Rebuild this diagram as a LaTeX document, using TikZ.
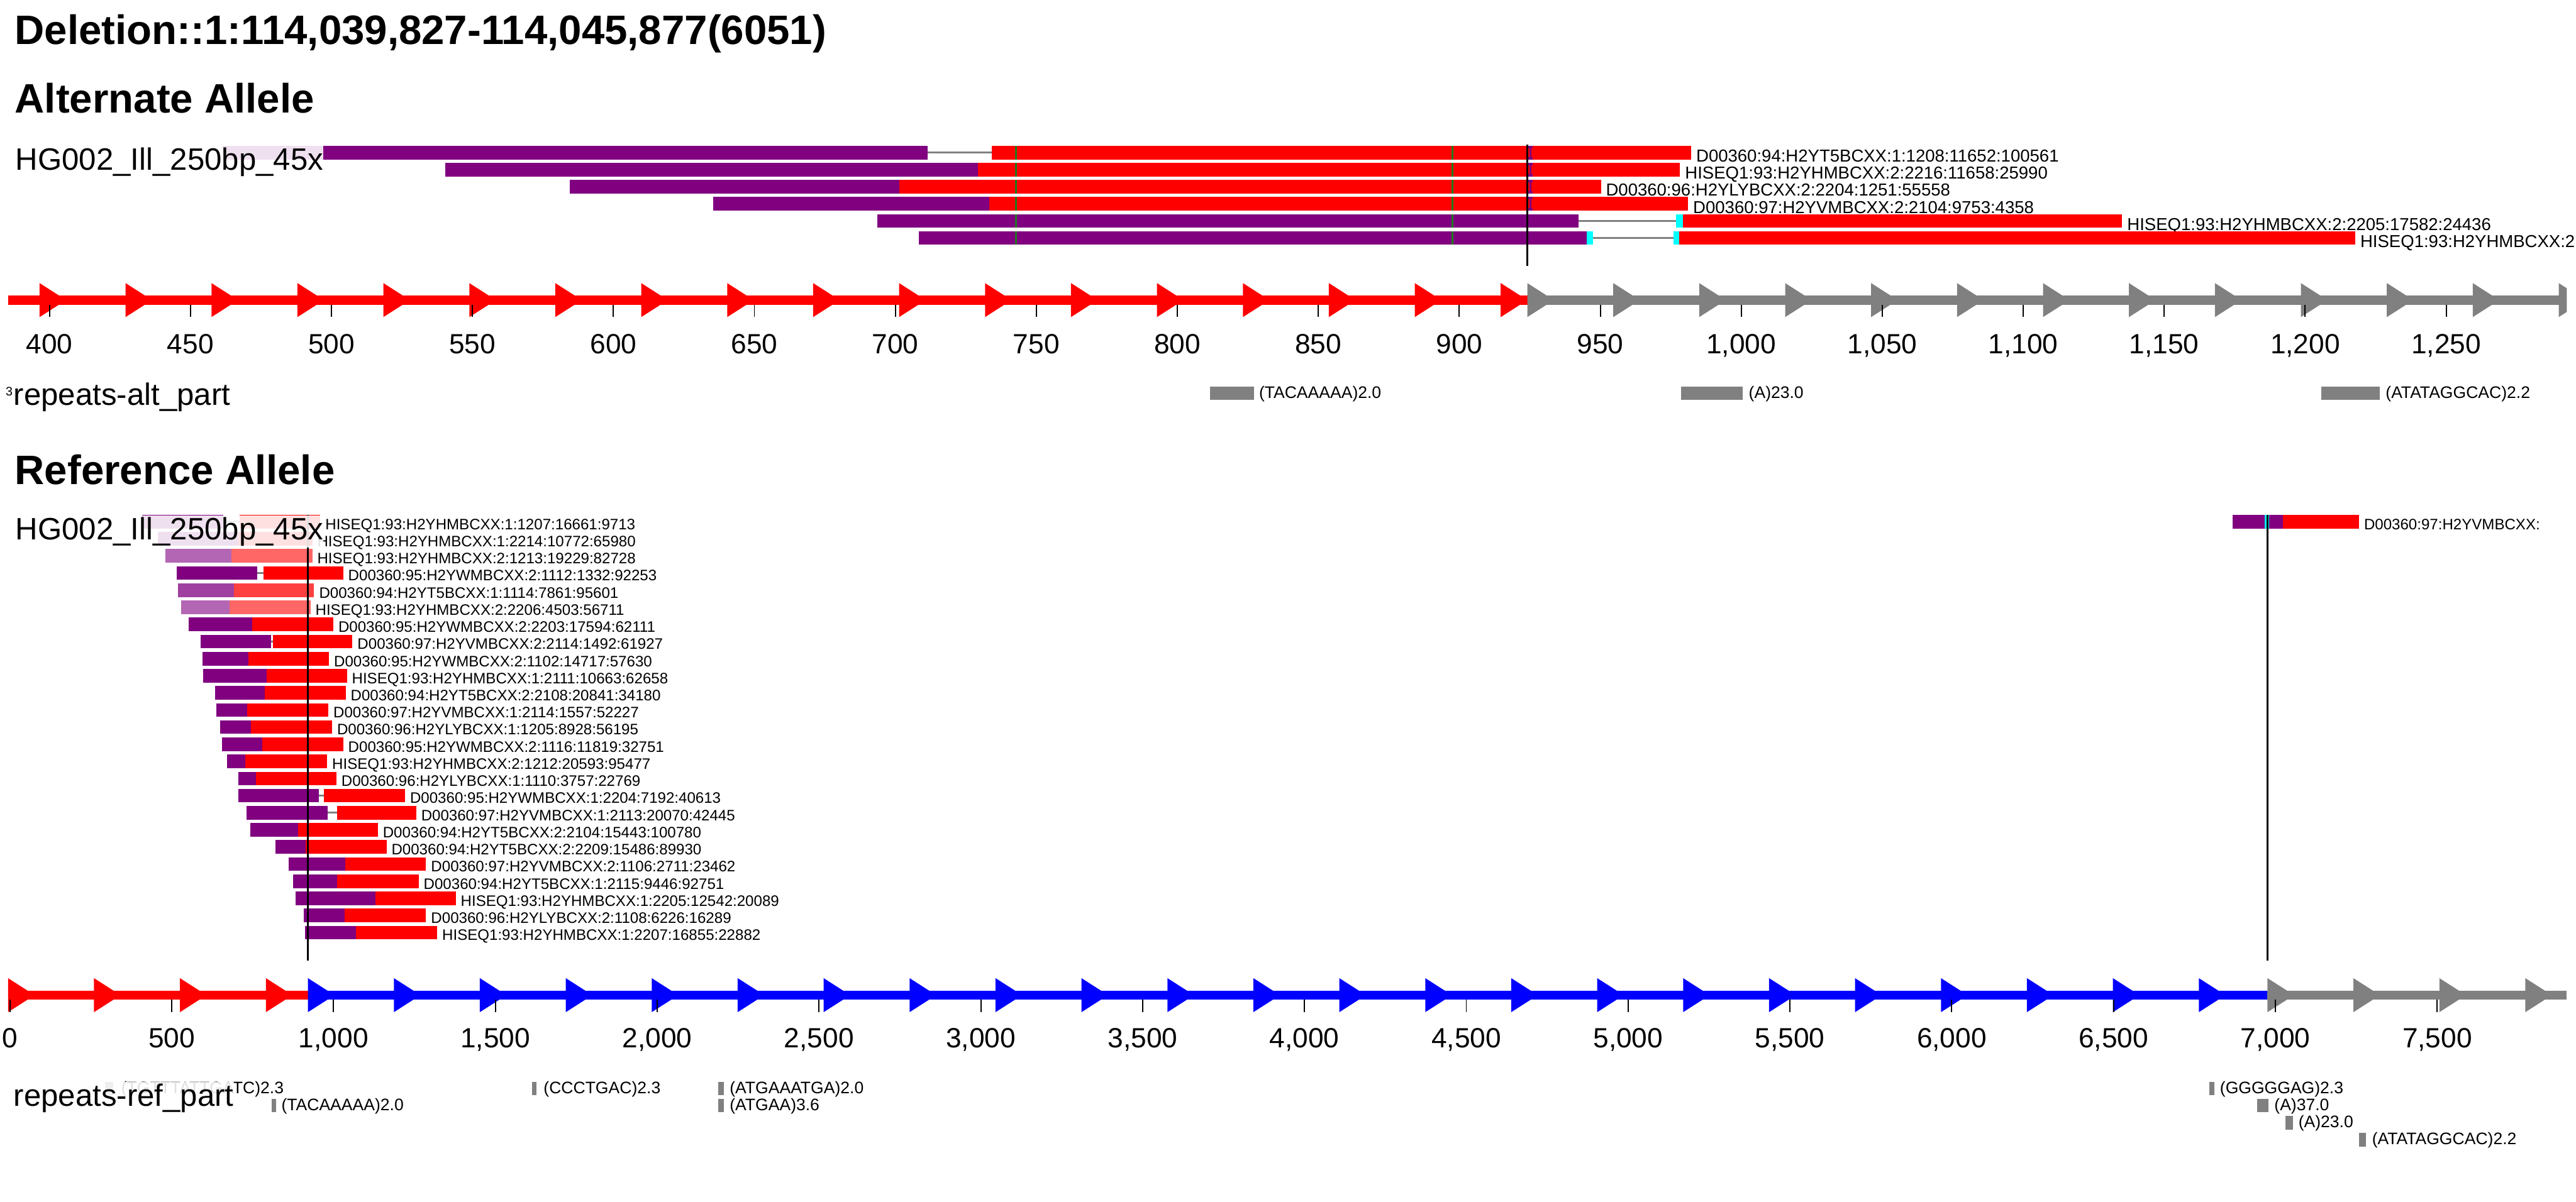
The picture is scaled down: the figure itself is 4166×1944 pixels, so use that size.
\documentclass[tikz,border=0pt]{standalone}
\usepackage{fontspec}
\setmainfont{Liberation Sans}
\definecolor{purp}{HTML}{800080}
\definecolor{rd}{HTML}{FF0000}
\definecolor{gr}{HTML}{808080}
\definecolor{bl}{HTML}{0000FF}
\definecolor{cy}{HTML}{00FFFF}
\definecolor{gn}{HTML}{1E7B1E}
\newcommand{\fsz}[1]{\fontsize{#1}{#1}\selectfont}
\tikzset{
  ttl/.style={anchor=base west, inner sep=0pt, font=\bfseries\fsz{66.5}},
  trk/.style={anchor=base west, inner xsep=0pt, inner ysep=3pt, fill=white, fill opacity=.88, text opacity=1, font=\fsz{50}},
  albl/.style={anchor=base west, inner sep=0pt, font=\fsz{28}},
  rlbl/.style={anchor=base west, inner sep=0pt, font=\fsz{24.5}},
  replbl/.style={anchor=base west, inner sep=0pt, font=\fsz{27}},
  ticklbl/.style={anchor=base, inner sep=0pt, font=\fsz{45}},
  conn/.style={draw=gr, line width=3pt},
  vline/.style={draw=black, line width=2.5pt},
  tickmark/.style={draw=black, line width=2pt},
  mism/.style={draw=gn, line width=3pt},
}
\pgfkeys{/pgf/number format/.cd, int detect, 1000 sep={,}, assume math mode=true}
% arrow triangle: colour, left x, centre y
\newcommand{\tri}[3]{\fill[#1] (#2,#3-27.5) -- (#2+43,#3) -- (#2,#3+27.5) -- cycle;}
% reference read row: [opacity]{row}{purple start}{purple end}{red start}{red end}{label}
\newcommand{\rrow}[7][1]{%
  \pgfmathsetmacro{\yt}{833+(#2-1)*27.7}%
  \pgfmathsetmacro{\yb}{\yt+22}%
  \pgfmathsetmacro{\ym}{\yt+11}%
  \pgfmathsetmacro{\yl}{\yt+23.5}%
  \pgfmathsetmacro{\xl}{#6+8}%
  \fill[purp, fill opacity=#1] (#3,\yt) rectangle (#4,\yb);
  \draw[conn] (#4,\ym) -- (#5,\ym);
  \fill[rd, fill opacity=#1] (#5,\yt) rectangle (#6,\yb);
  \node[rlbl] (rr#2) at (\xl,\yl) {#7};
}
% repeat: {name}{x1}{x2}{top}{label x}{text}
\newcommand{\rep}[6]{%
  \fill[gr] (#2,#4) rectangle (#3,#4+22);
  \node[replbl] (#1) at (#5,#4+19) {#6};
}
\begin{document}
\begin{tikzpicture}[x=1pt,y=-1pt]
\useasboundingbox (0,0) rectangle (4166,1944);

% ---------- titles ----------
\node[ttl] (title) at (24,72) {Deletion::1:114,039,827-114,045,877(6051)};
\node[ttl] (alt) at (24,183) {Alternate Allele};
\node[ttl] (ref) at (24,784) {Reference Allele};

% ---------- alternate allele reads ----------
% row 1
\fill[purp] (360,236) rectangle (1500,258);
\draw[conn] (1500,247) -- (1604,247);
\fill[rd] (1604,236) rectangle (2735,258);
\node[albl] (a1) at (2743,262) {D00360:94:H2YT5BCXX:1:1208:11652:100561};
% row 2
\fill[purp] (720,263.6) rectangle (1582,285.6);
\fill[rd] (1582,263.6) rectangle (2717,285.6);
\node[albl] (a2) at (2725,289.6) {HISEQ1:93:H2YHMBCXX:2:2216:11658:25990};
% row 3
\fill[purp] (921,291.2) rectangle (1454,313.2);
\fill[rd] (1454,291.2) rectangle (2589,313.2);
\node[albl] (a3) at (2597,317.2) {D00360:96:H2YLYBCXX:2:2204:1251:55558};
% row 4
\fill[purp] (1153,318.8) rectangle (1600,340.8);
\fill[rd] (1600,318.8) rectangle (2730,340.8);
\node[albl] (a4) at (2738,344.8) {D00360:97:H2YVMBCXX:2:2104:9753:4358};
% row 5
\fill[purp] (1419,346.4) rectangle (2553,368.4);
\draw[conn] (2553,357.4) -- (2711,357.4);
\fill[cy] (2711,346.4) rectangle (2722,368.4);
\fill[rd] (2722,346.4) rectangle (3432,368.4);
\node[albl] (a5) at (3440,372.4) {HISEQ1:93:H2YHMBCXX:2:2205:17582:24436};
% row 6
\fill[purp] (1486,374) rectangle (2566,396);
\fill[cy] (2566,374) rectangle (2576,396);
\draw[conn] (2576,385) -- (2706,385);
\fill[cy] (2706,374) rectangle (2716,396);
\fill[rd] (2716,374) rectangle (3809,396);
\node[albl] (a6) at (3817,400) {HISEQ1:93:H2YHMBCXX:2};
% mismatches
\foreach \t in {236,263.6,291.2,318.8,346.4,374}{
  \draw[mism] (1643,\t) -- (1643,\t+22);
  \draw[mism] (2349,\t) -- (2349,\t+22);
}
% insertion marks
\foreach \t in {236,263.6,291.2,318.8}{
  \draw[purp, line width=2.5pt] (2475,\t) -- (2475,\t+22);
  \fill[purp] (2471,\t) rectangle (2479,\t+4);
  \fill[purp] (2471,\t+18) rectangle (2479,\t+22);
}
\draw[vline] (2470,234) -- (2470,430);
\node[trk] (trkA) at (25,275) {HG002\_Ill\_250bp\_45x};

% ---------- alternate axis ----------
\begin{scope}
\clip (0,0) rectangle (4151,1944);
\fill[rd] (13,478) rectangle (2470,493);
\fill[gr] (2470,478) rectangle (4151,493);
\foreach \k in {0,...,17} {\tri{rd}{64+139*\k}{485.5}}
\foreach \k in {0,...,12} {\tri{gr}{2470+139*\k}{485.5}}
\end{scope}
\foreach \b in {400,450,...,1250}{
  \pgfmathsetmacro{\xx}{80+(\b-400)*4.56}
  \draw[tickmark] (\xx,493) -- (\xx,513);
  \node[ticklbl] (at\b) at (\xx,572) {\pgfmathprintnumber{\b}};
}

% ---------- alternate repeats ----------
\node[anchor=base west, inner sep=0pt, font=\fsz{20}] (three) at (9,640) {3};
\rep{ra1}{1957}{2028}{625}{2036}{(TACAAAAA)2.0}
\rep{ra2}{2719}{2818}{625}{2828}{(A)23.0}
\rep{ra3}{3754}{3849}{625}{3858}{(ATATAGGCAC)2.2}
\node[trk] (repA) at (22,655) {repeats-alt\_part};

% ---------- reference allele reads ----------
\rrow{1}{230}{361}{388}{518}{HISEQ1:93:H2YHMBCXX:1:1207:16661:9713}
\rrow{2}{255}{385}{385}{505}{HISEQ1:93:H2YHMBCXX:1:2214:10772:65980}
\rrow[0.6]{3}{267}{374}{374}{505}{HISEQ1:93:H2YHMBCXX:2:1213:19229:82728}
\rrow{4}{286}{416}{426}{555}{D00360:95:H2YWMBCXX:2:1112:1332:92253}
\rrow[0.75]{5}{288}{378}{378}{508}{D00360:94:H2YT5BCXX:1:1114:7861:95601}
\rrow[0.6]{6}{293}{371}{371}{502}{HISEQ1:93:H2YHMBCXX:2:2206:4503:56711}
\rrow{7}{305}{408}{408}{539}{D00360:95:H2YWMBCXX:2:2203:17594:62111}
\rrow{8}{324}{438}{441}{570}{D00360:97:H2YVMBCXX:2:2114:1492:61927}
\rrow{9}{327}{402}{402}{532}{D00360:95:H2YWMBCXX:2:1102:14717:57630}
\rrow{10}{329}{431}{431}{561}{HISEQ1:93:H2YHMBCXX:1:2111:10663:62658}
\rrow{11}{348}{428}{428}{559}{D00360:94:H2YT5BCXX:2:2108:20841:34180}
\rrow{12}{350}{400}{400}{531}{D00360:97:H2YVMBCXX:1:2114:1557:52227}
\rrow{13}{356}{406}{406}{537}{D00360:96:H2YLYBCXX:1:1205:8928:56195}
\rrow{14}{359}{424}{424}{555}{D00360:95:H2YWMBCXX:2:1116:11819:32751}
\rrow{15}{367}{397}{397}{529}{HISEQ1:93:H2YHMBCXX:2:1212:20593:95477}
\rrow{16}{385}{414}{414}{544}{D00360:96:H2YLYBCXX:1:1110:3757:22769}
\rrow{17}{385}{516}{524}{655}{D00360:95:H2YWMBCXX:1:2204:7192:40613}
\rrow{18}{399}{530}{545}{673}{D00360:97:H2YVMBCXX:1:2113:20070:42445}
\rrow{19}{405}{482}{482}{611}{D00360:94:H2YT5BCXX:2:2104:15443:100780}
\rrow{20}{445}{494}{494}{625}{D00360:94:H2YT5BCXX:2:2209:15486:89930}
\rrow{21}{467}{558}{558}{689}{D00360:97:H2YVMBCXX:2:1106:2711:23462}
\rrow{22}{474}{545}{545}{677}{D00360:94:H2YT5BCXX:1:2115:9446:92751}
\rrow{23}{478}{607}{607}{737}{HISEQ1:93:H2YHMBCXX:1:2205:12542:20089}
\rrow{24}{491}{557}{557}{689}{D00360:96:H2YLYBCXX:2:1108:6226:16289}
\rrow{25}{493}{576}{576}{707}{HISEQ1:93:H2YHMBCXX:1:2207:16855:22882}
% right-hand read
\fill[purp] (3611,833) rectangle (3662,855);
\fill[cy] (3662,833) rectangle (3670,855);
\fill[purp] (3670,833) rectangle (3692,855);
\fill[rd] (3692,833) rectangle (3815,855);
\node[rlbl] (rright) at (3823,857) {D00360:97:H2YVMBCXX:};
\draw[vline] (498,833) -- (498,1554);
\draw[vline] (3667,833) -- (3667,1554);
\node[trk] (trkR) at (25,873) {HG002\_Ill\_250bp\_45x};

% ---------- reference axis ----------
\begin{scope}
\clip (0,0) rectangle (4151,1944);
\fill[rd] (13,1603) rectangle (498,1617);
\fill[bl] (498,1603) rectangle (3667,1617);
\fill[gr] (3667,1603) rectangle (4151,1617);
\foreach \k in {0,...,3} {\tri{rd}{13+139*\k}{1610}}
\foreach \k in {0,...,22} {\tri{bl}{498+139*\k}{1610}}
\foreach \k in {0,...,3} {\tri{gr}{3667+139*\k}{1610}}
\end{scope}
\foreach \b in {0,500,...,7500}{
  \pgfmathsetmacro{\xx}{16+\b*0.5234}
  \draw[tickmark] (\xx,1617) -- (\xx,1638);
  \node[ticklbl] (rt\b) at (\xx,1695) {\pgfmathprintnumber{\b}};
}

% ---------- reference repeats ----------
\rep{rr1}{170}{183}{1750}{196}{(TGTTTATTGATC)2.3}
\rep{rr2}{439}{446}{1777.7}{455}{(TACAAAAA)2.0}
\rep{rr3}{860}{868}{1750}{879}{(CCCTGAC)2.3}
\rep{rr4}{1161}{1171}{1750}{1180}{(ATGAAATGA)2.0}
\rep{rr5}{1161}{1171}{1777.7}{1180}{(ATGAA)3.6}
\rep{rr6}{3573}{3581}{1750}{3590}{(GGGGGAG)2.3}
\rep{rr7}{3650}{3669}{1777.7}{3678}{(A)37.0}
\rep{rr8}{3696}{3708}{1805.4}{3717}{(A)23.0}
\rep{rr9}{3815}{3826}{1833}{3836}{(ATATAGGCAC)2.2}
\node[trk] (repR) at (22,1790) {repeats-ref\_part};
\end{tikzpicture}
\end{document}
